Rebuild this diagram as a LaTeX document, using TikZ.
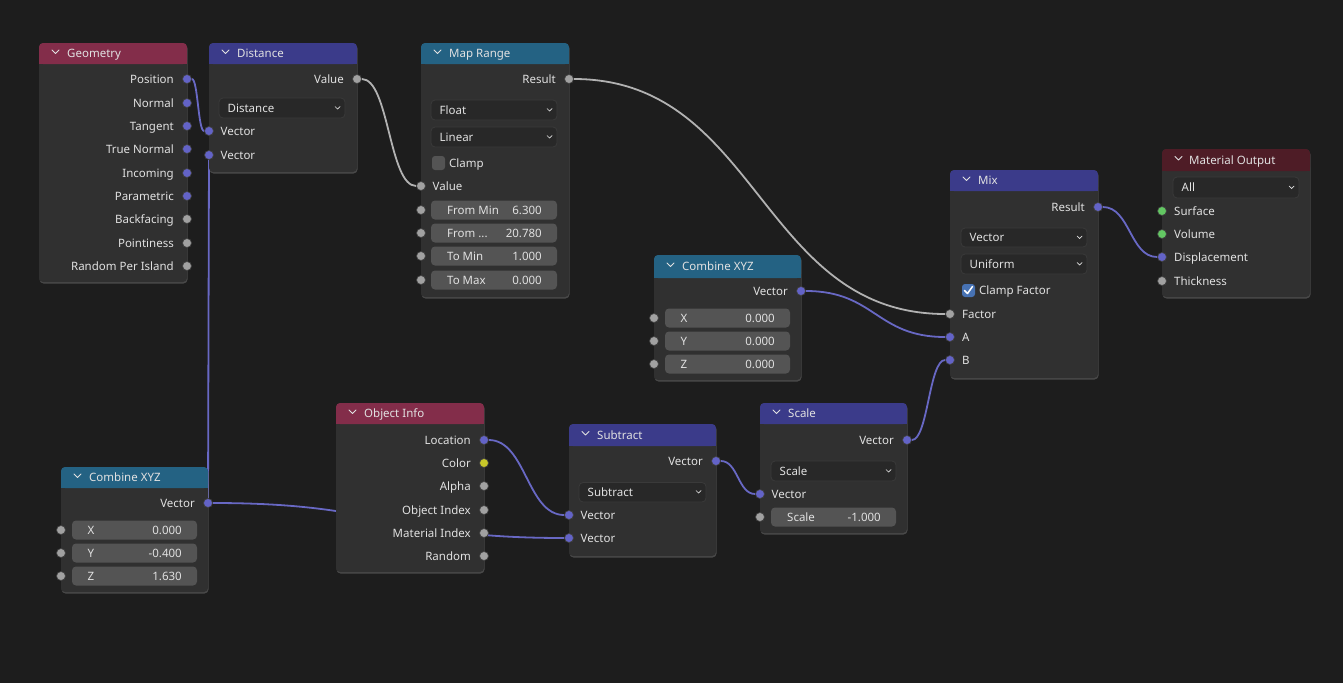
\documentclass[tikz,border=0pt]{standalone}
\usepackage{fontspec}
\setmainfont{Noto Sans}
\usepackage{tikz}
\usetikzlibrary{shadows}
\definecolor{bgcol}{RGB}{29,29,29}
\definecolor{bodycol}{RGB}{48,48,48}
\definecolor{inhdr}{RGB}{131,45,74}
\definecolor{vechdr}{RGB}{59,59,138}
\definecolor{convhdr}{RGB}{36,98,131}
\definecolor{outhdr}{RGB}{78,28,38}
\definecolor{txtcol}{RGB}{225,225,225}
\definecolor{menucol}{RGB}{40,40,40}
\definecolor{menuline}{RGB}{58,58,58}
\definecolor{valcol}{RGB}{84,84,84}
\definecolor{vsockcol}{RGB}{99,99,199}
\definecolor{fsockcol}{RGB}{161,161,161}
\definecolor{ysockcol}{RGB}{199,199,41}
\definecolor{gsockcol}{RGB}{99,199,99}
\definecolor{vlinkcol}{RGB}{104,104,196}
\definecolor{flinkcol}{RGB}{178,178,178}
\definecolor{chkcol}{RGB}{71,114,179}
\pgfdeclarelayer{back}
\pgfsetlayers{back,main}

\begin{document}
\begin{tikzpicture}[x=1pt, y=-1pt, font=\fontsize{11.5}{13.8}\selectfont,
		body/.style={fill=bodycol, rounded corners=4pt, drop shadow={shadow xshift=0.5pt, shadow yshift=-1.5pt, opacity=0.45}},
		txt/.style={text=txtcol, inner sep=0pt, text height=8.2pt, text depth=0pt},
		chev/.style={draw=txtcol, line width=0.9pt, line cap=round, line join=round},
		menubox/.style={fill=menucol, draw=menuline, line width=0.8pt, rounded corners=4pt},
		valbox/.style={fill=valcol, rounded corners=4pt},
		sock/.style={circle, inner sep=0pt, minimum size=9pt, draw=black!75, line width=0.7pt},
		vsock/.style={sock, fill=vsockcol},
		fsock/.style={sock, fill=fsockcol},
		ysock/.style={sock, fill=ysockcol},
		gsock/.style={sock, fill=gsockcol},
		vlink/.style={draw=vlinkcol, line width=1.8pt},
		flink/.style={draw=flinkcol, line width=1.8pt}]
			\begin{pgfonlayer}{back}
			\fill[bgcol] (0,0) rectangle (1343,683);
			\end{pgfonlayer}
			\useasboundingbox (0,0) rectangle (1343,683);
			% Geometry
			\fill[body] (39,43) rectangle (187,282);
			\fill[inhdr, rounded corners=4pt] (39,43) rectangle (187,64);
			\fill[inhdr] (39,56) rectangle (187,64);
			\draw[chev] (52,50) -- (55.5,53.5) -- (59,50);
			\node[txt, anchor=west] (geoT) at (67,53.5) {Geometry};
			\node[vsock] (geoPos) at (187,79) {};
			\node[txt, anchor=east] (geoPosL) at (174,79) {Position};
			\node[vsock] (geoNor) at (187,103) {};
			\node[txt, anchor=east] (geoNorL) at (174,103) {Normal};
			\node[vsock] (geoTan) at (187,126) {};
			\node[txt, anchor=east] (geoTanL) at (174,126) {Tangent};
			\node[vsock] (geoTnor) at (187,149) {};
			\node[txt, anchor=east] (geoTnorL) at (174,149) {True Normal};
			\node[vsock] (geoInc) at (187,173) {};
			\node[txt, anchor=east] (geoIncL) at (174,173) {Incoming};
			\node[vsock] (geoPar) at (187,196) {};
			\node[txt, anchor=east] (geoParL) at (174,196) {Parametric};
			\node[fsock] (geoBack) at (187,219) {};
			\node[txt, anchor=east] (geoBackL) at (174,219) {Backfacing};
			\node[fsock] (geoPnt) at (187,243) {};
			\node[txt, anchor=east] (geoPntL) at (174,243) {Pointiness};
			\node[fsock] (geoRnd) at (187,266) {};
			\node[txt, anchor=east] (geoRndL) at (174,266) {Random Per Island};
			% Distance
			\fill[body] (209,43) rectangle (357,172);
			\fill[vechdr, rounded corners=4pt] (209,43) rectangle (357,64);
			\fill[vechdr] (209,56) rectangle (357,64);
			\draw[chev] (222,50) -- (225.5,53.5) -- (229,50);
			\node[txt, anchor=west] (distT) at (237,53.5) {Distance};
			\node[fsock] (distVal) at (357,79) {};
			\node[txt, anchor=east] (distValL) at (344,79) {Value};
			\draw[menubox] (219,98) rectangle (345,118);
			\node[txt, anchor=west] (distMenu) at (227.5,108) {Distance};
			\draw[chev, line width=0.7pt] (335,106.5) -- (337.5,109) -- (340,106.5);
			\node[vsock] (distVa) at (209,131) {};
			\node[txt, anchor=west] (distVaL) at (220.5,131) {Vector};
			\node[vsock] (distVb) at (209,155) {};
			\node[txt, anchor=west] (distVbL) at (220.5,155) {Vector};
			% Map Range
			\fill[body] (421,43) rectangle (569,297);
			\fill[convhdr, rounded corners=4pt] (421,43) rectangle (569,64);
			\fill[convhdr] (421,56) rectangle (569,64);
			\draw[chev] (434,50) -- (437.5,53.5) -- (441,50);
			\node[txt, anchor=west] (mrT) at (449,53.5) {Map Range};
			\node[fsock] (mrRes) at (569,79) {};
			\node[txt, anchor=east] (mrResL) at (556,79) {Result};
			\draw[menubox] (431,100) rectangle (557,120);
			\node[txt, anchor=west] (mrFloat) at (439.5,110) {Float};
			\draw[chev, line width=0.7pt] (547,108.5) -- (549.5,111) -- (552,108.5);
			\draw[menubox] (431,127) rectangle (557,147);
			\node[txt, anchor=west] (mrLin) at (439.5,137) {Linear};
			\draw[chev, line width=0.7pt] (547,135.5) -- (549.5,138) -- (552,135.5);
			\fill[valbox, rounded corners=3pt] (432,156) rectangle (445,170);
			\node[txt, anchor=west] (mrClampL) at (449,163) {Clamp};
			\node[fsock] (mrVal) at (421,186) {};
			\node[txt, anchor=west] (mrValL) at (432.5,186) {Value};
			\node[fsock] (mrFmin) at (421,210) {};
			\fill[valbox] (431,200.5) rectangle (557,219.5);
			\node[txt, anchor=west] (mrFminL) at (447,210) {From Min};
			\node[txt, anchor=east] (mrFminV) at (542,210) {6.300};
			\node[fsock] (mrFmax) at (421,233) {};
			\fill[valbox] (431,223.5) rectangle (557,242.5);
			\node[txt, anchor=west] (mrFmaxL) at (447,233) {From ...};
			\node[txt, anchor=east] (mrFmaxV) at (542,233) {20.780};
			\node[fsock] (mrTmin) at (421,256) {};
			\fill[valbox] (431,246.5) rectangle (557,265.5);
			\node[txt, anchor=west] (mrTminL) at (447,256) {To Min};
			\node[txt, anchor=east] (mrTminV) at (542,256) {1.000};
			\node[fsock] (mrTmax) at (421,280) {};
			\fill[valbox] (431,270.5) rectangle (557,289.5);
			\node[txt, anchor=west] (mrTmaxL) at (447,280) {To Max};
			\node[txt, anchor=east] (mrTmaxV) at (542,280) {0.000};
			% Combine XYZ (middle)
			\fill[body] (654,255) rectangle (801,380);
			\fill[convhdr, rounded corners=4pt] (654,255) rectangle (801,278);
			\fill[convhdr] (654,268) rectangle (801,278);
			\draw[chev] (667,263) -- (670.5,266.5) -- (674,263);
			\node[txt, anchor=west] (cmT) at (682,266.5) {Combine XYZ};
			\node[vsock] (cmVec) at (801,291) {};
			\node[txt, anchor=east] (cmVecL) at (788,291) {Vector};
			\node[fsock] (cmX) at (654,318) {};
			\fill[valbox] (665,308.5) rectangle (790,327.5);
			\node[txt, anchor=west] (cmXL) at (680.5,318) {X};
			\node[txt, anchor=east] (cmXV) at (775,318) {0.000};
			\node[fsock] (cmY) at (654,341) {};
			\fill[valbox] (665,331.5) rectangle (790,350.5);
			\node[txt, anchor=west] (cmYL) at (680.5,341) {Y};
			\node[txt, anchor=east] (cmYV) at (775,341) {0.000};
			\node[fsock] (cmZ) at (654,364) {};
			\fill[valbox] (665,354.5) rectangle (790,373.5);
			\node[txt, anchor=west] (cmZL) at (680.5,364) {Z};
			\node[txt, anchor=east] (cmZV) at (775,364) {0.000};
			% Mix
			\fill[body] (950,170) rectangle (1098,378);
			\fill[vechdr, rounded corners=4pt] (950,170) rectangle (1098,191);
			\fill[vechdr] (950,183) rectangle (1098,191);
			\draw[chev] (963,177) -- (966.5,180.5) -- (970,177);
			\node[txt, anchor=west] (mixT) at (978,180.5) {Mix};
			\node[vsock] (mixRes) at (1098,207) {};
			\node[txt, anchor=east] (mixResL) at (1085,207) {Result};
			\draw[menubox] (961,228) rectangle (1087,247);
			\node[txt, anchor=west] (mixVec) at (969.5,237.5) {Vector};
			\draw[chev, line width=0.7pt] (1077,236) -- (1079.5,238.5) -- (1082,236);
			\draw[menubox] (961,254) rectangle (1087,274);
			\node[txt, anchor=west] (mixUni) at (969.5,264) {Uniform};
			\draw[chev, line width=0.7pt] (1077,262.5) -- (1079.5,265) -- (1082,262.5);
			\fill[chkcol, rounded corners=3pt] (962,284) rectangle (975,297);
			\draw[white, line width=1.5pt, line cap=round, line join=round] (964.5,290.5) -- (967.5,293.5) -- (972.5,286.5);
			\node[txt, anchor=west] (mixClampL) at (979,290.5) {Clamp Factor};
			\node[fsock] (mixFac) at (950,314) {};
			\node[txt, anchor=west] (mixFacL) at (962,314) {Factor};
			\node[vsock] (mixA) at (950,337) {};
			\node[txt, anchor=west] (mixAL) at (962,337) {A};
			\node[vsock] (mixB) at (950,360) {};
			\node[txt, anchor=west] (mixBL) at (962,360) {B};
			% Material Output
			\fill[body] (1162,149) rectangle (1310,297);
			\fill[outhdr, rounded corners=4pt] (1162,149) rectangle (1310,171);
			\fill[outhdr] (1162,162) rectangle (1310,171);
			\draw[chev] (1175,156.5) -- (1178.5,160) -- (1182,156.5);
			\node[txt, anchor=west] (moT) at (1189,160) {Material Output};
			\draw[menubox] (1173,177) rectangle (1299,198);
			\node[txt, anchor=west] (moAll) at (1181.5,187.5) {All};
			\draw[chev, line width=0.7pt] (1289,186) -- (1291.5,188.5) -- (1294,186);
			\node[gsock] (moSurf) at (1162,211) {};
			\node[txt, anchor=west] (moSurfL) at (1174,211) {Surface};
			\node[gsock] (moVol) at (1162,234) {};
			\node[txt, anchor=west] (moVolL) at (1174,234) {Volume};
			\node[vsock] (moDisp) at (1162,257) {};
			\node[txt, anchor=west] (moDispL) at (1174,257) {Displacement};
			\node[fsock] (moThk) at (1162,281) {};
			\node[txt, anchor=west] (moThkL) at (1174,281) {Thickness};
			% Combine XYZ (bottom left)
			\fill[body] (61,467) rectangle (208,592);
			\fill[convhdr, rounded corners=4pt] (61,467) rectangle (208,488);
			\fill[convhdr] (61,480) rectangle (208,488);
			\draw[chev] (74,474) -- (77.5,477.5) -- (81,474);
			\node[txt, anchor=west] (cxT) at (89,477.5) {Combine XYZ};
			\node[vsock] (cxVec) at (208,503) {};
			\node[txt, anchor=east] (cxVecL) at (195,503) {Vector};
			\node[fsock] (cxX) at (61,530) {};
			\fill[valbox] (72,520.5) rectangle (197,539.5);
			\node[txt, anchor=west] (cxXL) at (87.5,530) {X};
			\node[txt, anchor=east] (cxXV) at (182,530) {0.000};
			\node[fsock] (cxY) at (61,553) {};
			\fill[valbox] (72,543.5) rectangle (197,562.5);
			\node[txt, anchor=west] (cxYL) at (87.5,553) {Y};
			\node[txt, anchor=east] (cxYV) at (182,553) {-0.400};
			\node[fsock] (cxZ) at (61,576) {};
			\fill[valbox] (72,566.5) rectangle (197,585.5);
			\node[txt, anchor=west] (cxZL) at (87.5,576) {Z};
			\node[txt, anchor=east] (cxZV) at (182,576) {1.630};
			% Object Info
			\fill[body] (336,403) rectangle (484,572);
			\fill[inhdr, rounded corners=4pt] (336,403) rectangle (484,424);
			\fill[inhdr] (336,416) rectangle (484,424);
			\draw[chev] (349,410) -- (352.5,413.5) -- (356,410);
			\node[txt, anchor=west] (obT) at (364,413.5) {Object Info};
			\node[vsock] (obLoc) at (484,440) {};
			\node[txt, anchor=east] (obLocL) at (471,440) {Location};
			\node[ysock] (obCol) at (484,463) {};
			\node[txt, anchor=east] (obColL) at (471,463) {Color};
			\node[fsock] (obAlp) at (484,486) {};
			\node[txt, anchor=east] (obAlpL) at (471,486) {Alpha};
			\node[fsock] (obOidx) at (484,510) {};
			\node[txt, anchor=east] (obOidxL) at (471,510) {Object Index};
			\node[fsock] (obMidx) at (484,533) {};
			\node[txt, anchor=east] (obMidxL) at (471,533) {Material Index};
			\node[fsock] (obRnd) at (484,556) {};
			\node[txt, anchor=east] (obRndL) at (471,556) {Random};
			% Subtract
			\fill[body] (569,424) rectangle (716,556);
			\fill[vechdr, rounded corners=4pt] (569,424) rectangle (716,446);
			\fill[vechdr] (569,437) rectangle (716,446);
			\draw[chev] (582,431.5) -- (585.5,435) -- (589,431.5);
			\node[txt, anchor=west] (subT) at (597,435) {Subtract};
			\node[vsock] (subVec) at (716,461) {};
			\node[txt, anchor=east] (subVecL) at (703,461) {Vector};
			\draw[menubox] (579,482.5) rectangle (706,502);
			\node[txt, anchor=west] (subMenu) at (587.5,492) {Subtract};
			\draw[chev, line width=0.7pt] (696,490.5) -- (698.5,493) -- (701,490.5);
			\node[vsock] (subVa) at (569,515) {};
			\node[txt, anchor=west] (subVaL) at (580.5,515) {Vector};
			\node[vsock] (subVb) at (569,538) {};
			\node[txt, anchor=west] (subVbL) at (580.5,538) {Vector};
			% Scale
			\fill[body] (760,403) rectangle (907,533);
			\fill[vechdr, rounded corners=4pt] (760,403) rectangle (907,424);
			\fill[vechdr] (760,416) rectangle (907,424);
			\draw[chev] (773,410) -- (776.5,413.5) -- (780,410);
			\node[txt, anchor=west] (scT) at (788,413.5) {Scale};
			\node[vsock] (scVecO) at (907,440) {};
			\node[txt, anchor=east] (scVecOL) at (894,440) {Vector};
			\draw[menubox] (771,461) rectangle (896,481);
			\node[txt, anchor=west] (scMenu) at (779.5,471) {Scale};
			\draw[chev, line width=0.7pt] (886,469.5) -- (888.5,472) -- (891,469.5);
			\node[vsock] (scVecI) at (760,494) {};
			\node[txt, anchor=west] (scVecIL) at (771.5,494) {Vector};
			\node[fsock] (scScale) at (760,517) {};
			\fill[valbox] (771,507.5) rectangle (896,526.5);
			\node[txt, anchor=west] (scScaleL) at (787,517) {Scale};
			\node[txt, anchor=east] (scScaleV) at (881,517) {-1.000};
			% links
			\begin{pgfonlayer}{back}
			\draw[vlink] (geoPos) .. controls +(11,0) and +(-11,0) .. (distVa);
			\draw[vlink] (cxVec) -- (distVb);
			\draw[vlink] (cxVec) .. controls +(180,0) and +(-180,0) .. (subVb);
			\draw[vlink] (obLoc) .. controls +(42,0) and +(-42,0) .. (subVa);
			\draw[flink] (distVal) .. controls +(32,0) and +(-32,0) .. (mrVal);
			\draw[flink] (mrRes) .. controls +(190,0) and +(-190,0) .. (mixFac);
			\draw[vlink] (cmVec) .. controls +(74,0) and +(-74,0) .. (mixA);
			\draw[vlink] (subVec) .. controls +(22,0) and +(-22,0) .. (scVecI);
			\draw[vlink] (scVecO) .. controls +(21,0) and +(-21,0) .. (mixB);
			\draw[vlink] (mixRes) .. controls +(32,0) and +(-32,0) .. (moDisp);
			\end{pgfonlayer}
		\end{tikzpicture}
\end{document}
